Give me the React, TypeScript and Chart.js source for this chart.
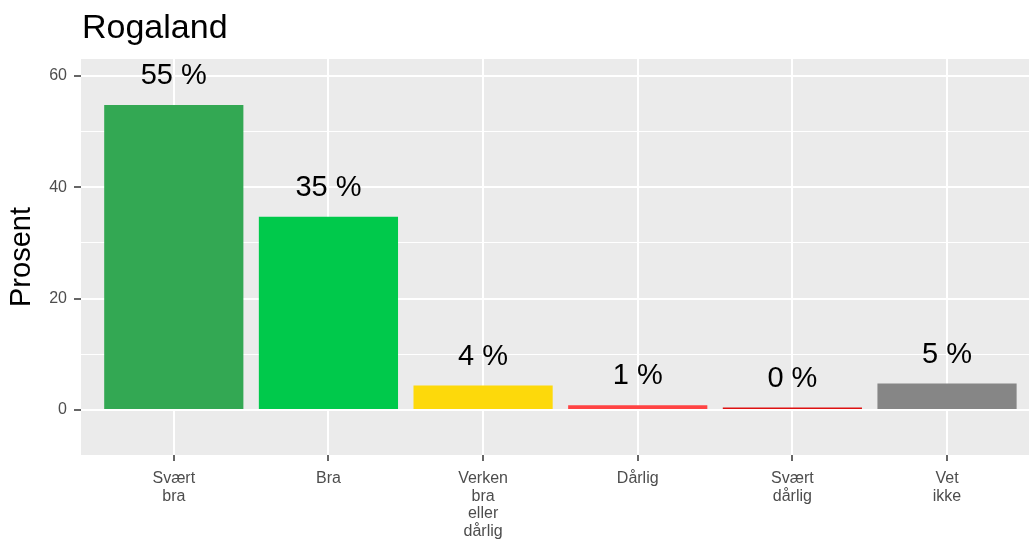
import React, { useEffect, useRef } from "react";
import { Chart, registerables } from "chart.js";

Chart.register(...registerables);

const title = "Rogaland";
const yTitle = "Prosent";
const categories: string[][] = [
  ["Svært", "bra"],
  ["Bra"],
  ["Verken", "bra", "eller", "dårlig"],
  ["Dårlig"],
  ["Svært", "dårlig"],
  ["Vet", "ikke"],
];
const values = [54.8, 34.7, 4.4, 0.85, 0.45, 4.75];
const valueLabels = ["55 %", "35 %", "4 %", "1 %", "0 %", "5 %"];
const barColors = ["#33A853", "#00C94B", "#FDD90B", "#FF4343", "#DD1111", "#868686"];
const yTicks = [0, 10, 20, 30, 40, 50, 60];

const FONT = "'Liberation Sans', Arial, Helvetica, sans-serif";

export default function App() {
  const ref = useRef<HTMLCanvasElement | null>(null);
  useEffect(() => {
    const canvas = ref.current;
    if (!canvas) return;

    const bgPlugin = {
      id: "panelBg",
      beforeDraw(chart: any) {
        const { ctx, chartArea } = chart;
        ctx.save();
        ctx.fillStyle = "#EBEBEB";
        ctx.fillRect(chartArea.left, chartArea.top, chartArea.right - chartArea.left, chartArea.bottom - chartArea.top);
        ctx.restore();
      },
      afterDraw(chart: any) {
        const { ctx } = chart;
        ctx.save();
        ctx.fillStyle = "#000000";
        ctx.font = `34px ${FONT}`;
        ctx.textAlign = "left";
        ctx.textBaseline = "alphabetic";
        ctx.fillText(title, 82, 38);
        ctx.restore();
      },
    };

    const labelPlugin = {
      id: "valueLabels",
      afterDatasetsDraw(chart: any) {
        const { ctx } = chart;
        const meta = chart.getDatasetMeta(0);
        ctx.save();
        ctx.fillStyle = "#000000";
        ctx.font = `29px ${FONT}`;
        ctx.textAlign = "center";
        ctx.textBaseline = "alphabetic";
        meta.data.forEach((el: any, i: number) => {
          ctx.fillText(valueLabels[i], el.x, el.y - 21);
        });
        ctx.restore();
      },
    };

    const chart = new Chart(canvas, {
      type: "bar",
      data: {
        datasets: [
          {
            data: values.map((v, i) => ({ x: i + 1, y: v })),
            backgroundColor: barColors,
            borderWidth: 0,
            categoryPercentage: 1,
            barPercentage: 0.9,
          } as any,
        ],
      },
      options: {
        animation: false,
        responsive: false,
        maintainAspectRatio: false,
        layout: { padding: { top: 59, left: 0, right: 0, bottom: 0 } },
        plugins: {
          legend: { display: false },
          tooltip: { enabled: false },
          title: { display: false },
        },
        scales: {
          x: {
            type: "linear",
            offset: false,
            min: 0.4,
            max: 6.53,
            afterBuildTicks(scale: any) {
              scale.ticks = categories.map((_, i) => ({ value: i + 1 }));
            },
            afterFit(scale: any) {
              scale.height = 92;
            },
            ticks: {
              autoSkip: false,
              maxRotation: 0,
              color: "#4D4D4D",
              font: { family: FONT, size: 16, lineHeight: 1.1 },
              padding: 9,
              callback: (v: any) => categories[Number(v) - 1] ?? "",
            },
            grid: {
              offset: false,
              color: "#FFFFFF",
              lineWidth: 2,
              tickColor: "#333333",
              tickLength: 6,
              tickWidth: 1.5,
            },
            border: { display: false },
          },
          y: {
            type: "linear",
            min: -8.08,
            max: 63.05,
            afterBuildTicks(scale: any) {
              scale.ticks = yTicks.map((v) => ({ value: v }));
            },
            afterFit(scale: any) {
              scale.width = 81;
            },
            ticks: {
              color: "#4D4D4D",
              font: { family: FONT, size: 16 },
              padding: 7,
              callback: (v: any) => (Number(v) % 20 === 0 ? String(v) : ""),
            },
            grid: {
              color: "#FFFFFF",
              lineWidth: (ctx: any) => (ctx.tick && ctx.tick.value % 20 === 0 ? 2 : 1),
              tickColor: (ctx: any) => (ctx.tick && ctx.tick.value % 20 === 0 ? "#333333" : "rgba(0,0,0,0)"),
              tickLength: 7,
              tickWidth: 1.5,
            },
            border: { display: false },
            title: {
              display: true,
              text: yTitle,
              color: "#000000",
              font: { family: FONT, size: 29 },
              padding: { top: 5, bottom: 0 },
            },
          },
        },
      },
      plugins: [bgPlugin, labelPlugin],
    });
    return () => chart.destroy();
  }, []);

  return (
    <div style={{ position: "fixed", left: 0, top: 0, width: 1029, height: 547, background: "#FFFFFF" }}>
      <canvas ref={ref} width={1029} height={547} style={{ width: 1029, height: 547, display: "block" }} />
    </div>
  );
}
